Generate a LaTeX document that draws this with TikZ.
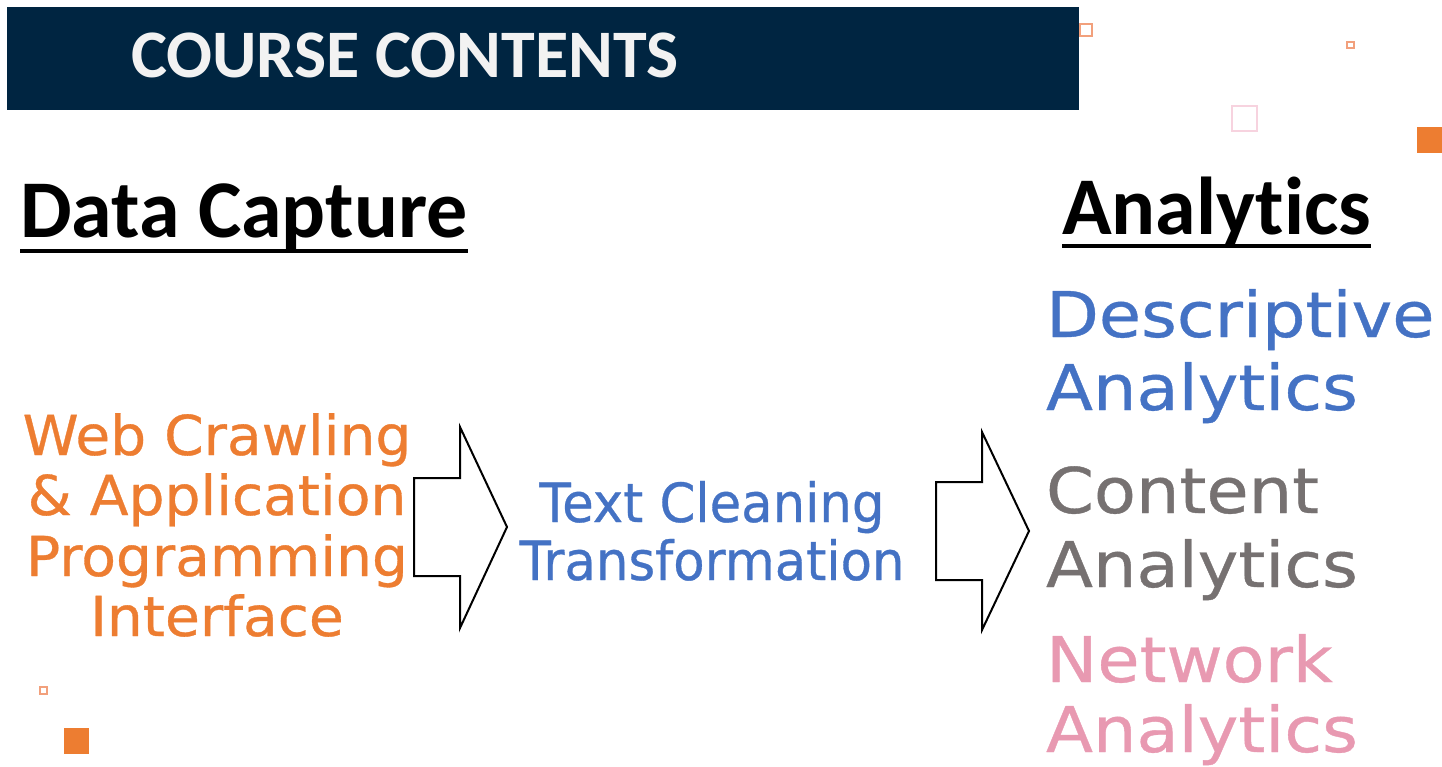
\documentclass[tikz,border=0pt]{standalone}
\usepackage{fontspec}
\newfontfamily\headfont{Carlito}[Ligatures={NoCommon,NoDiscretionary},Contextuals=NoAlternate]
\newfontfamily\techfont{DejaVu Sans}[FakeStretch=1.03,FakeBold=0.6]
\newfontfamily\processfont{DejaVu Sans}[FakeStretch=0.95,FakeBold=0.6]
\newfontfamily\methodfont{DejaVu Sans}[FakeStretch=1.09,FakeBold=0.6]
\definecolor{navy}{HTML}{002541}
\definecolor{accent}{HTML}{ED7D31}
\definecolor{accentlight}{HTML}{F2A07C}
\definecolor{pinklight}{HTML}{F7D3DF}
\definecolor{bluetext}{HTML}{4472C4}
\definecolor{graytext}{HTML}{767171}
\definecolor{pinktext}{HTML}{E899B1}

\begin{document}
\begin{tikzpicture}[x=1pt,y=-1pt,
  txt/.style={inner sep=0pt,outer sep=0pt},
  heading/.style={txt,anchor=base west,font=\headfont\bfseries\fontsize{82}{82}\selectfont},
  capture/.style={txt,anchor=base,text=accent,font=\techfont\fontsize{55}{61}\selectfont},
  process/.style={txt,anchor=base,text=bluetext,font=\processfont\fontsize{54}{58}\selectfont},
  method/.style={txt,anchor=base west,font=\methodfont\fontsize{63}{74}\selectfont},
  blockarrow/.style={draw=black,line width=2pt,line join=miter,fill=white},
  deco/.style={line width=1.6pt}]
\useasboundingbox (0,0) rectangle (1442,767);

% title banner
\fill[navy] (7,7) rectangle (1079,110);
\node[txt,anchor=base west,text=white!95!black,
      font=\headfont\bfseries\fontsize{68}{68}\selectfont] (title) at (131,78) {COURSE CONTENTS};

% decorative squares
\draw[deco,draw=accentlight] (1080,24) rectangle (1092,36);
\draw[deco,draw=accentlight] (1347,42) rectangle (1354,48);
\draw[line width=2pt,draw=pinklight] (1232,106) rectangle (1257,131);
\fill[accent] (1417,127) rectangle (1442,153);
\draw[deco,draw=accentlight] (40,687) rectangle (47,694);
\fill[accent] (64,728) rectangle (89,754);

% section headings
\node[heading] (dc) at (20,238) {Data Capture};
\draw[line width=4pt] (dc.base west) ++(0,13) coordinate (dcl) -- (dcl -| dc.base east);
\node[heading] (an) at (1062,235) {Analytics};
\draw[line width=4pt] (an.base west) ++(0,11) coordinate (anl) -- (anl -| an.base east);

% data capture
\node[capture] (c1) at (217,455) {Web Crawling};
\node[capture] (c2) at (217,515) {\& Application};
\node[capture] (c3) at (217,576) {Programming};
\node[capture] (c4) at (217,636) {Interface};

% block arrows
\draw[blockarrow] (414,478) -- (460,478) -- (460,427) -- (507,527)
  -- (460,628) -- (460,576) -- (414,576) -- cycle;
\draw[blockarrow] (936,482) -- (982,482) -- (982,432) -- (1029,531)
  -- (982,630) -- (982,580) -- (936,580) -- cycle;

% processing
\node[process] (p1) at (712,522) {Text Cleaning};
\node[process] (p2) at (712,580) {Transformation};

% analytics methods
\node[method,text=bluetext] (m1) at (1046,337) {Descriptive};
\node[method,text=bluetext] (m2) at (1046,410) {Analytics};
\node[method,text=graytext] (m3) at (1046,513) {Content};
\node[method,text=graytext] (m4) at (1046,587) {Analytics};
\node[method,text=pinktext] (m5) at (1046,682) {Network};
\node[method,text=pinktext] (m6) at (1046,752) {Analytics};
\end{tikzpicture}
\end{document}
